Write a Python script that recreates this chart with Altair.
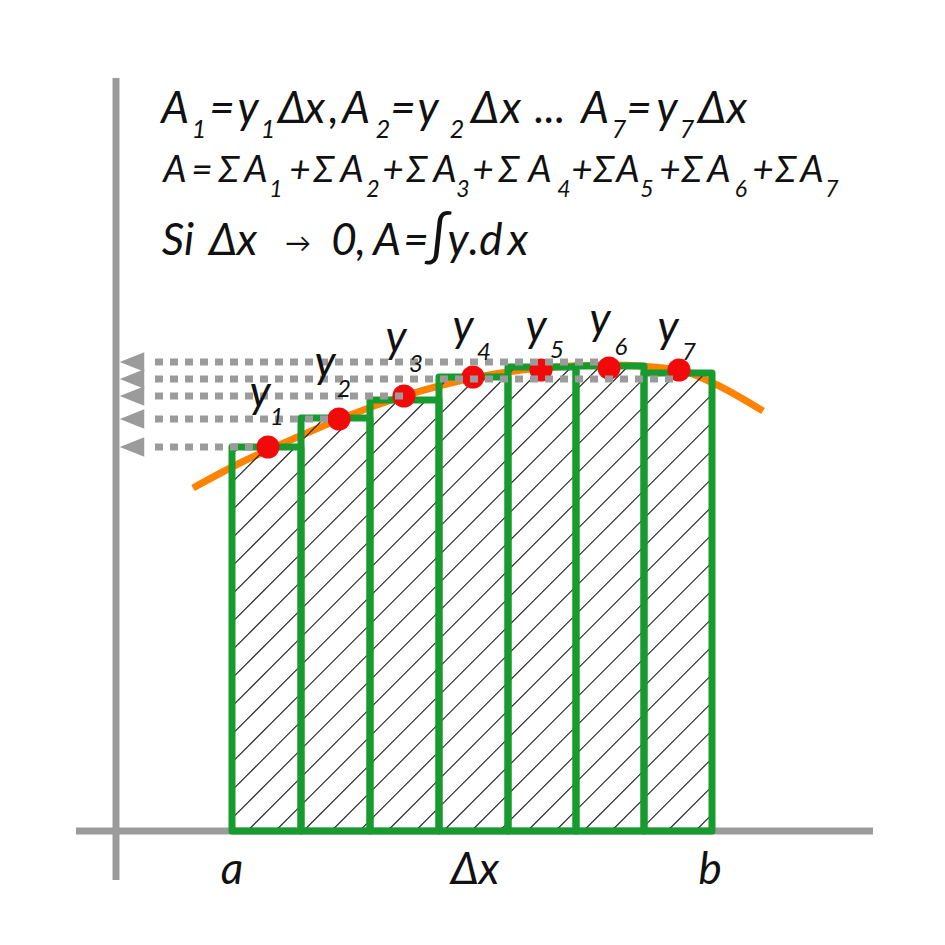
import altair as alt
import numpy as np
import pandas as pd

# ---- diagram values (units: px-like, origin at the axes crossing, y up) ----
bar_left = [116, 185, 254, 323, 392, 460, 528]
bar_right = [185, 254, 323, 392, 460, 528, 596]
bar_height = [384, 413, 431, 454, 464, 465, 458]

point_x = [152, 223, 288, 357, 425, 493, 563]
point_y = [384, 412, 435, 454, 461, 463, 461]

curve_x = [77, 124, 184, 224, 288, 357, 425, 493, 563, 597, 647]
curve_y = [343, 368, 395, 412, 435, 453, 463, 466, 461, 448, 420]

arrow_y = [469, 452, 435, 412, 384]
arrow_end = [489, 561, 289, 217, 144]
arrow_start = 39
arrow_tip = 16

axis_v = [-49, 753]   # vertical axis extent (y)
axis_h = [-40, 757]   # horizontal axis extent (x)

hatch_step = 28
hatch_phase = -8.6

# ---- text (glyph, x, baseline y, font size) ----
line1_t = ["A", "=", "y", "Δ", "x", ",", "A", "=", "y", "Δ", "x", "...", "A", "=", "y", "Δ", "x"]
line1_x = [59, 106, 132, 176, 199, 218, 240, 287, 312, 369, 395, 434, 479, 523, 551, 596, 621]
line1_y = 708
line1_sub_t = ["1", "1", "2", "2", "7", "7"]
line1_sub_x = [83, 152, 267, 341, 503, 571]
line1_sub_y = 693

line2_t = ["A", "=", "Σ", "A",
           "+", "Σ", "A", "+", "Σ", "A", "+", "Σ", "A",
           "+", "Σ", "A", "+", "Σ", "A", "+", "Σ", "A"]
line2_x = [59, 86, 113, 140,
           184, 208, 236, 277, 301, 329, 367, 393, 424,
           466, 488, 512, 554, 576, 603, 647, 670, 696]
line2_y = 649
line2_sub_t = ["1", "2", "3", "4", "5", "6", "7"]
line2_sub_x = [160, 257, 347, 448, 531, 625, 716]
line2_sub_y = 634

line3_t = ["Si", "Δ", "x", "0", ",", "A", "=", "∫", "y", ".", "d", "x"]
line3_x = [62, 107, 131, 228, 245, 271, 300, 322, 342, 358, 375, 402]
line3_size = [44, 44, 44, 44, 44, 44, 44, 54, 44, 44, 44, 44]
line3_y = 576
arrow_sym_x = 182

label_y_x = [144, 209, 280, 347, 420, 484, 552]
label_y_y = [424, 454, 479, 490, 490, 497, 489]
label_sub_t = ["1", "2", "3", "4", "5", "6", "7"]
label_sub_x = [161, 228, 300, 368, 441, 505, 573]
label_sub_y = [406, 434, 459, 471, 473, 476, 471]

bottom_t = ["a", "Δx", "b"]
bottom_x = [116, 359, 594]
bottom_y = -53

GREEN = "#179a2e"
RED = "#f20a0a"
ORANGE = "#ff8200"
GRAY = "#9b9b9b"
FONT = "Lato"

# ---- tables ----
bars = pd.DataFrame({"x": bar_left, "x2": bar_right, "h": bar_height})
points = pd.DataFrame({"x": point_x, "y": point_y})
curve = pd.DataFrame({"x": curve_x, "y": curve_y})
arrows = pd.DataFrame({"y": arrow_y, "x2": arrow_end})
arrows["x"] = arrow_start
arrows["tip"] = arrow_tip

hatch_rows = []
for x0, x1, h in zip(bar_left, bar_right, bar_height):
    for c in np.arange(hatch_phase - hatch_step * 40, x1, hatch_step):
        xs, xe = max(x0, c), min(x1, c + h)
        if xe > xs:
            hatch_rows.append({"x": xs, "y": xs - c, "x2": xe, "y2": xe - c})
hatch = pd.DataFrame(hatch_rows)

axes = pd.DataFrame([
    {"x": 0, "x2": 0, "y": axis_v[0], "y2": axis_v[1]},
    {"x": axis_h[0], "x2": axis_h[1], "y": 0, "y2": 0},
])

rows = []
for t, x in zip(line1_t, line1_x):
    rows.append({"t": t, "x": x, "y": line1_y, "fs": 44})
for t, x in zip(line1_sub_t, line1_sub_x):
    rows.append({"t": t, "x": x, "y": line1_sub_y, "fs": 25})
for t, x in zip(line2_t, line2_x):
    rows.append({"t": t, "x": x, "y": line2_y, "fs": 37})
for t, x in zip(line2_sub_t, line2_sub_x):
    rows.append({"t": t, "x": x, "y": line2_sub_y, "fs": 23})
for t, x, s in zip(line3_t, line3_x, line3_size):
    rows.append({"t": t, "x": x, "y": line3_y, "fs": s})
for x, y in zip(label_y_x, label_y_y):
    rows.append({"t": "y", "x": x, "y": y, "fs": 44})
for t, x, y in zip(label_sub_t, label_sub_x, label_sub_y):
    rows.append({"t": t, "x": x, "y": y, "fs": 24})
for t, x in zip(bottom_t, bottom_x):
    rows.append({"t": t, "x": x, "y": bottom_y, "fs": 44})
texts = pd.DataFrame(rows)
arrow_text = pd.DataFrame([{"t": "→", "x": arrow_sym_x, "y": line3_y}])

xs = alt.Scale(domain=[-108, 821], nice=False, zero=False)
ys = alt.Scale(domain=[-106, 823], nice=False, zero=False)
X = lambda f: alt.X(f, type="quantitative", scale=xs, axis=None)
Y = lambda f: alt.Y(f, type="quantitative", scale=ys, axis=None)

axis_layer = alt.Chart(axes).mark_rule(color=GRAY, strokeWidth=7).encode(
    x=X("x"), x2="x2", y=Y("y"), y2="y2")

curve_layer = alt.Chart(curve).mark_line(
    color=ORANGE, strokeWidth=7, interpolate="monotone").encode(x=X("x"), y=Y("y"))

hatch_layer = alt.Chart(hatch).mark_rule(color="#222222", strokeWidth=1.1).encode(
    x=X("x"), y=Y("y"), x2="x2", y2="y2")

bar_layer = alt.Chart(bars).mark_rect(
    fillOpacity=0, stroke=GREEN, strokeWidth=7, strokeJoin="round").encode(
    x=X("x"), x2="x2", y=alt.Y("h:Q", scale=ys, axis=None), y2=alt.datum(0))

point_layer = alt.Chart(points).mark_circle(size=530, color=RED, opacity=1).encode(
    x=X("x"), y=Y("y"))

dots_layer = alt.Chart(arrows).mark_rule(
    color=GRAY, strokeWidth=7, strokeDash=[8, 7]).encode(
    x=X("x"), x2="x2", y=Y("y"))

head_layer = alt.Chart(arrows).mark_point(
    shape="M-1,0L1,-0.8L1,0.8Z", size=600, filled=True, color=GRAY, opacity=1,
    strokeWidth=0).encode(x=X("tip"), y=Y("y"))

text_layer = alt.Chart(texts).mark_text(
    font=FONT, fontStyle="italic", align="center",
    baseline="alphabetic", color="#111111").encode(
    x=X("x"), y=Y("y"), text="t:N", size=alt.Size("fs:Q", scale=None, legend=None))

arrow_sym_layer = alt.Chart(arrow_text).mark_text(
    font=FONT, fontSize=26, align="center", baseline="alphabetic",
    color="#111111", dy=-3).encode(x=X("x"), y=Y("y"), text="t:N")

chart = alt.layer(
    axis_layer, curve_layer, hatch_layer, bar_layer, point_layer,
    dots_layer, head_layer, text_layer, arrow_sym_layer,
).properties(
    width=929, height=929, padding=0,
    autosize=alt.AutoSizeParams(type="none"),
).configure_view(stroke=None)

chart.save("out.html", embed_options={"renderer": "svg", "actions": False})
